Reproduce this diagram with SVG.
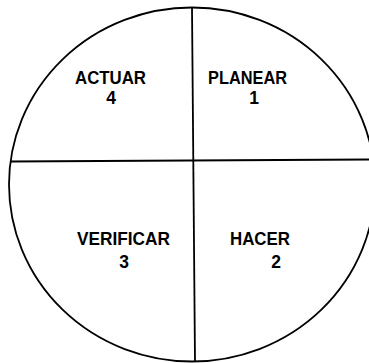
<svg xmlns="http://www.w3.org/2000/svg" width="369" height="363" viewBox="0 0 369 363">
<style>
.t{font-family:"Liberation Sans",Arial,sans-serif;font-weight:bold;font-size:17.5px;fill:#000;text-anchor:middle}
.s{fill:none;stroke:#000;stroke-width:1.8}
</style>
<rect width="369" height="363" fill="#fff"/>
<g id="circle"><ellipse class="s" cx="192" cy="184.5" rx="183" ry="177"/></g>
<g id="connectors">
<line class="s" x1="192" y1="8" x2="195" y2="362"/>
<line class="s" x1="10" y1="161.5" x2="369" y2="159.5"/>
</g>
<g id="actuar"><text class="t" x="110.5" y="83.5" textLength="71" lengthAdjust="spacingAndGlyphs">ACTUAR</text><text class="t" x="111" y="104">4</text></g>
<g id="planear"><text class="t" x="247.5" y="83.5" textLength="79" lengthAdjust="spacingAndGlyphs">PLANEAR</text><text class="t" x="254" y="104">1</text></g>
<g id="verificar"><text class="t" x="123.5" y="245" textLength="93" lengthAdjust="spacingAndGlyphs">VERIFICAR</text><text class="t" x="124" y="268">3</text></g>
<g id="hacer"><text class="t" x="260" y="245" textLength="60" lengthAdjust="spacingAndGlyphs">HACER</text><text class="t" x="276" y="268">2</text></g>
</svg>
